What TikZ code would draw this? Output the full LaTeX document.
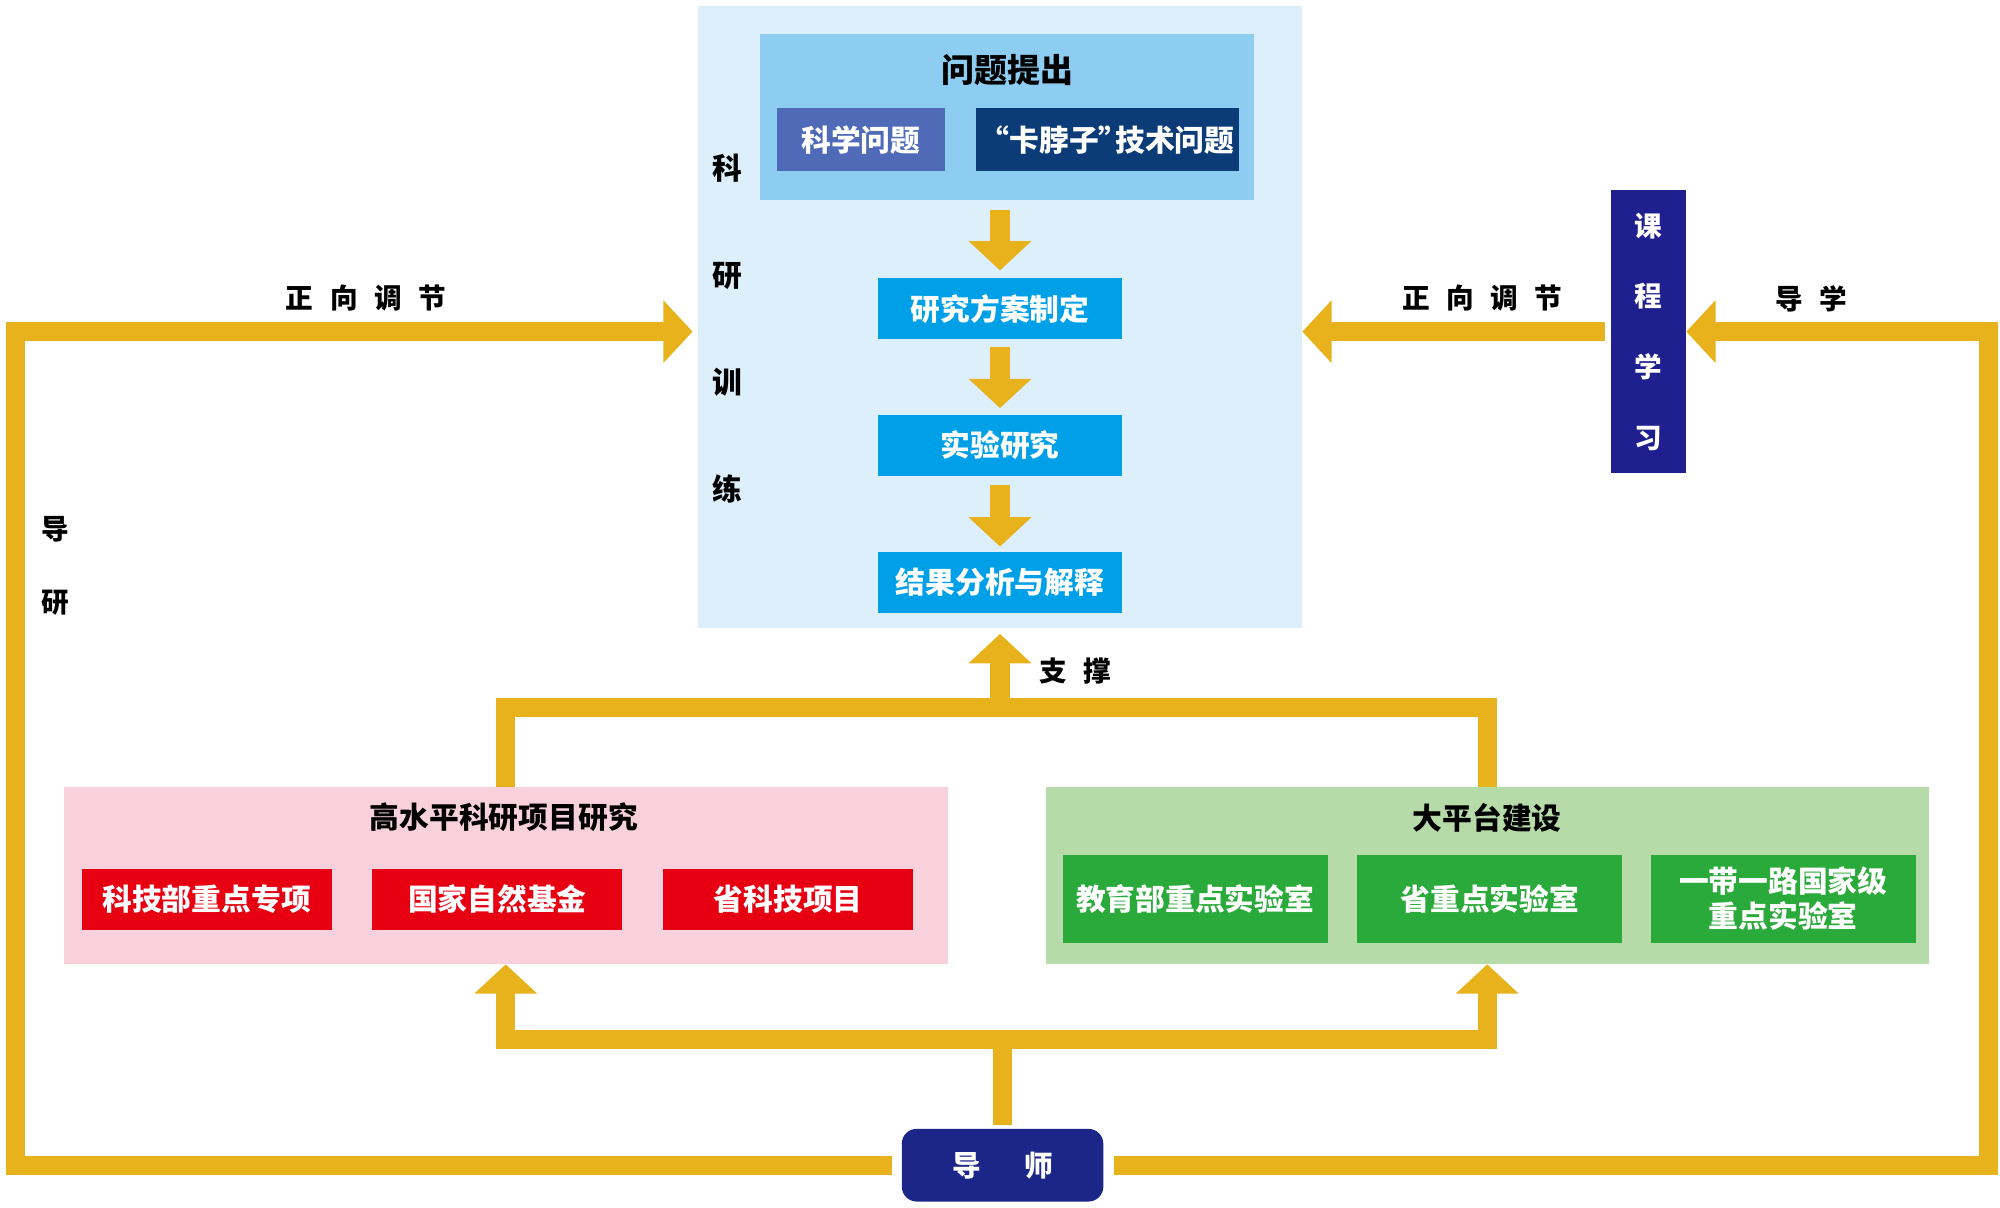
\documentclass[tikz,border=0pt]{standalone}
\usepackage{fontspec}
\newfontfamily\cjk{Noto Sans CJK SC}
\usetikzlibrary{arrows.meta}

\definecolor{sciback}{HTML}{DCEFFB}
\definecolor{quesback}{HTML}{8DCDF2}
\definecolor{sciqblue}{HTML}{4F6BB8}
\definecolor{techqblue}{HTML}{0B3C78}
\definecolor{stepblue}{HTML}{00A0E9}
\definecolor{coursebl}{HTML}{1F1F8F}
\definecolor{mentorbl}{HTML}{1B2688}
\definecolor{pinkback}{HTML}{F8D1DD}
\definecolor{projred}{HTML}{E60012}
\definecolor{greenback}{HTML}{B6DBA9}
\definecolor{labgreen}{HTML}{2AAA3A}
\definecolor{gold}{HTML}{E7B21B}

\newcommand{\gap}{\hspace{0.6em}}

\tikzset{
    panel/.style={rectangle, fill=#1, inner sep=0pt, outer sep=0pt},
    boxtext/.style={text=white, font=\cjk\bfseries\fontsize{14pt}{16.8pt}\selectfont},
    title/.style={inner sep=0pt, font=\cjk\bfseries\fontsize{14pt}{16.8pt}\selectfont},
    lbl/.style={inner sep=0pt, font=\cjk\bfseries\fontsize{13pt}{15.6pt}\selectfont},
    stepbox/.style={panel=stepblue, boxtext, minimum width=115.2pt, minimum height=28.8pt},
    projbox/.style={panel=projred, boxtext, minimum width=117.6pt, minimum height=28.8pt},
    labbox/.style={panel=labgreen, boxtext, align=center, minimum width=124.8pt, minimum height=41.4pt},
    fatline/.style={draw=gold, line width=9pt, line join=miter},
    fatarrow/.style={fatline, -{Triangle[width=28.8pt,length=13.8pt]}},
}

\begin{document}
\begin{tikzpicture}[x=0.6pt,y=-0.6pt]
    \useasboundingbox (0,0) rectangle (1568,947);

    % research training block
    \node[panel=sciback, minimum width=284.4pt, minimum height=292.2pt] (sci) at (784,248.5) {};
    \node[panel=quesback, minimum width=232.2pt, minimum height=78pt] (ques) at (789.5,92) {};
    \node[title, font=\cjk\bfseries\fontsize{15.5pt}{18pt}\selectfont] (questitle) at (790,55) {问题提出};
    \node[panel=sciqblue, boxtext, minimum width=79.2pt, minimum height=29.4pt] (sciq) at (675,109.5) {科学问题};
    \node[panel=techqblue, boxtext, minimum width=123.6pt, minimum height=29.4pt] (techq) at (868,109.5) {“卡脖子”\hspace{-0.45em}技术问题};
    \node[stepbox] (plan) at (784,242) {研究方案制定};
    \node[stepbox] (expt) at (784,349) {实验研究};
    \node[stepbox] (anal) at (784,456.5) {结果分析与解释};
    \node[lbl, align=center, font=\cjk\bfseries\fontsize{14pt}{50.4pt}\selectfont] (kyxl) at (570,257.5) {科\\研\\训\\练};

    \draw[fatarrow, shorten <=4.8pt, shorten >=3.6pt] (ques.south -| plan.north) -- (plan.north);
    \draw[fatarrow, shorten <=3.6pt, shorten >=3pt] (plan.south) -- (expt.north);
    \draw[fatarrow, shorten <=4.2pt, shorten >=2.4pt] (expt.south) -- (anal.north);

    % course study
    \node[panel=coursebl, text=white, align=center, minimum width=35.4pt, minimum height=133.2pt,
        font=\cjk\bfseries\fontsize{13pt}{33.2pt}\selectfont] (course) at (1292.5,260) {课\\程\\学\\习};

    % projects and platforms
    \node[panel=pinkback, minimum width=415.8pt, minimum height=83.4pt] (pink) at (396.5,686.5) {};
    \node[title] (pinktitle) at (395,641) {高水平科研项目研究};
    \node[projbox] (keyproj) at (162,705) {科技部重点专项};
    \node[projbox] (nsfc) at (390,705) {国家自然基金};
    \node[projbox] (provproj) at (618,705) {省科技项目};

    \node[panel=greenback, minimum width=415.2pt, minimum height=83.4pt] (green) at (1166,686.5) {};
    \node[title] (greentitle) at (1166,641) {大平台建设};
    \node[labbox] (moelab) at (937,704.5) {教育部重点实验室};
    \node[labbox] (provlab) at (1168,704.5) {省重点实验室};
    \node[labbox] (brilab) at (1398,704.5) {一带一路国家级\\重点实验室};

    % mentor
    \node[panel=mentorbl, rounded corners=7pt, text=white, minimum width=94.8pt, minimum height=34.2pt,
        font=\cjk\bfseries\fontsize{13.5pt}{16pt}\selectfont] (mentor) at (786,913.5) {导\hspace{1.5em}师};

    \coordinate (lcorner) at (12,260);
    \coordinate (rcorner) at (1559,260);
    \coordinate (jbot) at (786,815);
    \coordinate (jtop) at (784,555);

    \draw[fatarrow, shorten <=4.8pt, shorten >=2.4pt] (mentor.west) -| (lcorner) -- (sci.west |- lcorner);
    \draw[fatarrow, shorten <=4.8pt] (mentor.east) -| (rcorner) -- (course.east);
    \draw[fatarrow, shorten <=3pt] (course.west) -- (sci.east |- course.west);

    \draw[fatline, shorten <=2pt] (mentor.north) -- (jbot);
    \draw[fatarrow] (jbot) -| (pink.south);
    \draw[fatarrow] (jbot) -| (green.south);

    \draw[fatline] (pink.north) |- (jtop);
    \draw[fatline] (green.north) |- (jtop);
    \draw[fatarrow, shorten >=3pt] (jtop) -- (sci.south);

    % labels
    \node[lbl] (fwdleft) at (287,234) {正\gap 向\gap 调\gap 节};
    \node[lbl] (fwdright) at (1162,234) {正\gap 向\gap 调\gap 节};
    \node[lbl] (guidestudy) at (1420,234) {导\gap 学};
    \node[lbl, align=center, font=\cjk\bfseries\fontsize{13pt}{34.2pt}\selectfont] (guideres) at (43,443.5) {导\\研};
    \node[lbl] (support) at (843,526) {支\gap 撑};
\end{tikzpicture}
\end{document}
